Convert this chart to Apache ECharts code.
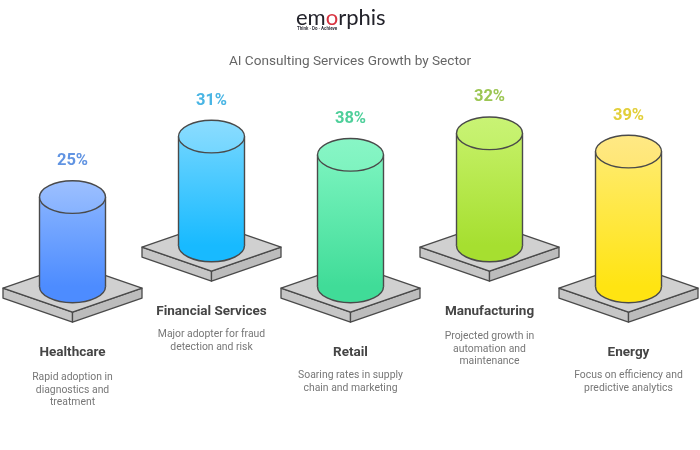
<!DOCTYPE html>
<html lang="en">
<head>
    <meta charset="UTF-8"/>
    <title>AI Consulting Services Growth by Sector</title>
    <script src="https://cdn.jsdelivr.net/npm/echarts@6/dist/echarts.min.js"></script>
    <style>
        html, body { margin: 0; padding: 0; background: #fff; }
        #main { width: 700px; height: 450px; }
    </style>
</head>
<body>
<div id="main"></div>
<script>
    var sectors = ['Healthcare', 'Financial Services', 'Retail', 'Manufacturing', 'Energy'];
    var growth = [25, 31, 38, 32, 39];
    var notes = [
        'Rapid adoption in\ndiagnostics and\ntreatment',
        'Major adopter for fraud\ndetection and risk',
        'Soaring rates in supply\nchain and marketing',
        'Projected growth in\nautomation and\nmaintenance',
        'Focus on efficiency and\npredictive analytics'
    ];

    // 每个圆柱的颜色：文字、顶面上/下、柱身上/下
    var palette = [
        { label: '#6194e2', capA: '#9dc0ff', capB: '#86b2ff', bodyA: '#86b2ff', bodyB: '#4d8cff' },
        { label: '#49b5e4', capA: '#8bdcff', capB: '#73d6ff', bodyA: '#6dd4ff', bodyB: '#18baff' },
        { label: '#4ecf9a', capA: '#88f6c6', capB: '#7ef3bf', bodyA: '#7bf4bf', bodyB: '#40dc98' },
        { label: '#9cc653', capA: '#c9f375', capB: '#c2f068', bodyA: '#c4f065', bodyB: '#a6df30' },
        { label: '#e2cf3a', capA: '#ffe985', capB: '#ffe675', bodyA: '#ffeb6e', bodyB: '#ffe412' }
    ];

    var FLOOR = -2.5;      // 柱子底部对应的数值
    var ROW_LIFT = 12.6;   // 偶数列往上错开
    var LINE = '#4a4a4a';

    function grad(a, b) {
        return new echarts.graphic.LinearGradient(0, 0, 0, 1, [
            { offset: 0, color: a },
            { offset: 1, color: b }
        ]);
    }

    function renderItem(params, api) {
        var i = api.value(0);
        var c = palette[i];
        var lift = i % 2 ? ROW_LIFT : 0;
        var x = api.coord([i, 0])[0];
        var top = api.coord([i, api.value(1) + lift])[1];
        var base = api.coord([i, FLOOR + lift])[1];
        var rx = 33, ry = 16.3;
        var w = 69.5, d = 24, cy = base + 1.6, t = 10;
        var slab = { stroke: LINE, lineWidth: 1.3, lineJoin: 'round' };
        var lines = notes[i].split('\n').length;

        return {
            type: 'group',
            children: [
                { type: 'polygon', shape: { points: [[x - w, cy], [x, cy + d], [x, cy + d + t], [x - w, cy + t]] },
                    style: Object.assign({ fill: '#c6c6c6' }, slab) },
                { type: 'polygon', shape: { points: [[x + w, cy], [x, cy + d], [x, cy + d + t], [x + w, cy + t]] },
                    style: Object.assign({ fill: '#bcbcbc' }, slab) },
                { type: 'polygon', shape: { points: [[x - w, cy], [x, cy - d], [x + w, cy], [x, cy + d]] },
                    style: Object.assign({ fill: '#d0d0d0' }, slab) },
                { type: 'ellipse', shape: { cx: x, cy: base, rx: rx, ry: ry },
                    style: { fill: c.bodyB, stroke: LINE, lineWidth: 1.4 } },
                { type: 'rect', shape: { x: x - rx, y: top, width: rx * 2, height: base - top },
                    style: { fill: grad(c.bodyA, c.bodyB) } },
                { type: 'line', shape: { x1: x - rx, y1: top, x2: x - rx, y2: base },
                    style: { stroke: LINE, lineWidth: 1.4 } },
                { type: 'line', shape: { x1: x + rx, y1: top, x2: x + rx, y2: base },
                    style: { stroke: LINE, lineWidth: 1.4 } },
                { type: 'ellipse', shape: { cx: x, cy: top, rx: rx, ry: ry },
                    style: { fill: grad(c.capA, c.capB), stroke: LINE, lineWidth: 1.4 } },
                { type: 'text', x: x, y: top - 36, style: {
                    text: api.value(1) + '%', fill: c.label, align: 'center', verticalAlign: 'middle',
                    font: '700 16.5px Roboto' } },
                { type: 'text', x: x, y: base + 66.5, style: {
                    text: sectors[i], fill: '#454545', align: 'center', verticalAlign: 'middle',
                    font: '700 13.5px Roboto' } },
                { type: 'text', x: x, y: base + (lines === 3 ? 85 : 83), style: {
                    text: notes[i], fill: '#777777', align: 'center', verticalAlign: 'top',
                    font: '400 10.4px Roboto', lineHeight: 12.4 } }
            ]
        };
    }

    var myChart = echarts.init(document.getElementById('main'));
    myChart.setOption({
        animation: false,
        backgroundColor: '#ffffff',
        title: {
            text: 'AI Consulting Services Growth by Sector',
            left: 'center',
            top: 50,
            textStyle: { fontFamily: 'Roboto', fontSize: 13.6, fontWeight: 400, color: '#666666' }
        },
        grid: { left: 3, top: 18.3, width: 695, height: 390 },
        xAxis: { type: 'category', data: sectors, show: false },
        yAxis: { type: 'value', min: -40, max: 80, show: false },
        series: [{
            type: 'custom',
            silent: true,
            clip: false,
            encode: { x: 0, y: 1 },
            data: growth.map(function (v, i) { return [i, v]; }),
            renderItem: renderItem
        }],
        graphic: [
            { type: 'text', left: 296, top: 7, silent: true, style: {
                text: '{a|em}{b|o}{a|rphis}',
                rich: {
                    a: { font: '400 22px Lato', fill: '#23232b' },
                    b: { font: '400 22px Lato', fill: '#d8323f' }
                } } },
            { type: 'text', left: 297, top: 26, silent: true, style: {
                text: 'Think · Do · Achieve', font: '700 4.5px Roboto', fill: '#33333d' } }
        ]
    });
</script>
</body>
</html>
